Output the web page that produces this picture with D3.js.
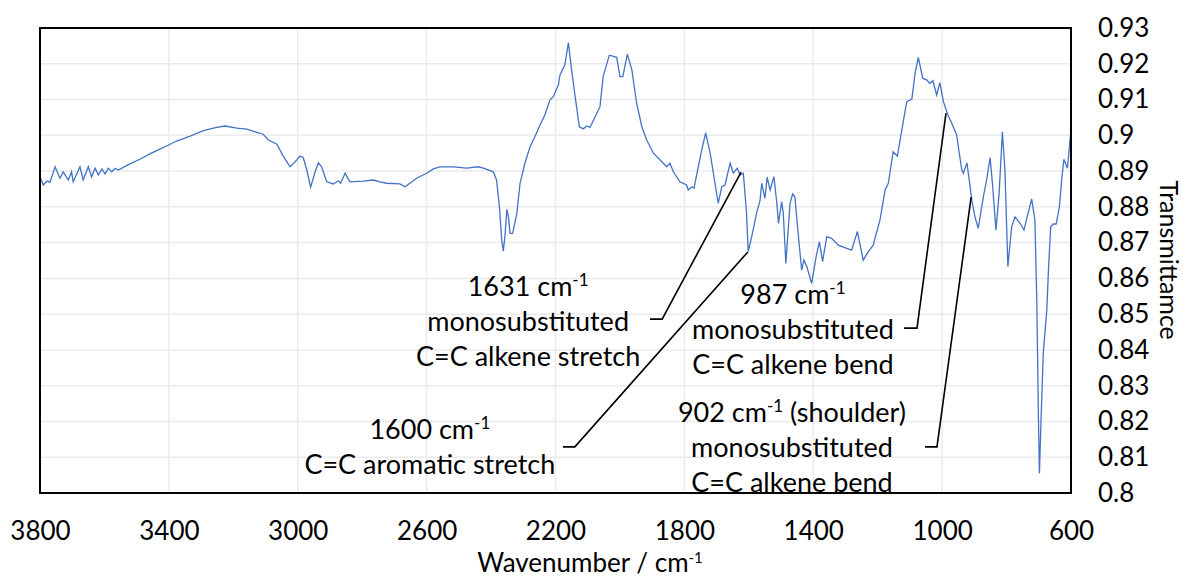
<!DOCTYPE html>
<html>
<head>
<meta charset="utf-8">
<title>IR spectrum</title>
<script src="https://d3js.org/d3.v7.min.js"></script>
<style>
  body { margin: 0; background: #fff; }
  svg text { font-family: Lato, "Open Sans", sans-serif; fill: #000; }
  .axis path { display: none; }
  .axis line { display: none; }
</style>
</head>
<body>
<svg id="chart" width="1187" height="577"></svg>
<script>
// wavenumber (cm-1)
var wavenumber = [3800,3790,3778,3769,3753,3738,3728,3712,3702,3697,
  3676,3666,3650,3640,3629,3619,3608,3598,3588,3577,
  3567,3557,3521,3490,3459,3438,3407,3376,3334,3293,
  3252,3226,3189,3158,3127,3107,3091,3065,3045,3024,
  3009,2993,2983,2972,2960,2946,2936,2926,2910,2890,
  2874,2867,2853,2838,2797,2766,2745,2724,2683,2667,
  2652,2631,2600,2579,2559,2517,2476,2440,2424,2393,
  2383,2374,2367,2362,2357,2351,2346,2341,2333,2320,
  2310,2300,2295,2279,2264,2248,2233,2217,2207,2191,
  2186,2171,2160,2150,2139,2126,2114,2103,2093,2077,
  2062,2052,2033,2010,2000,1991,1977,1963,1948,1932,
  1917,1896,1870,1855,1845,1834,1814,1793,1788,1777,
  1770,1757,1746,1734,1720,1710,1695,1684,1674,1658,
  1648,1636,1627,1617,1607,1602,1591,1576,1565,1560,
  1550,1543,1534,1522,1513,1508,1498,1493,1485,1472,
  1464,1457,1446,1436,1429,1420,1405,1391,1381,1371,
  1358,1343,1322,1296,1281,1263,1245,1229,1214,1193,
  1177,1167,1152,1139,1125,1110,1094,1084,1074,1060,
  1048,1038,1029,1017,1007,996,981,970,955,939,
  934,923,913,908,898,888,872,862,851,843,
  833,823,813,805,796,784,774,758,746,736,
  722,712,706,701,698,693,686,675,670,663,
  655,646,636,628,622,611,601];

var transmittance = [0.8884,0.8861,0.8872,0.8869,0.8912,0.8880,0.8898,0.8875,0.8898,0.8870,
  0.8912,0.8875,0.8912,0.8884,0.8908,0.8889,0.8906,0.8892,0.8908,0.8898,
  0.8908,0.8903,0.8920,0.8933,0.8948,0.8957,0.8970,0.8984,0.8998,0.9013,
  0.9022,0.9026,0.9020,0.9017,0.9008,0.9003,0.8987,0.8975,0.8942,0.8912,
  0.8925,0.8942,0.8938,0.8903,0.8855,0.8898,0.8923,0.8912,0.8870,0.8864,
  0.8873,0.8866,0.8894,0.8870,0.8872,0.8875,0.8870,0.8866,0.8864,0.8856,
  0.8866,0.8880,0.8894,0.8906,0.8912,0.8912,0.8908,0.8912,0.8908,0.8898,
  0.8875,0.8800,0.8707,0.8677,0.8717,0.8793,0.8772,0.8726,0.8726,0.8782,
  0.8866,0.8903,0.8922,0.8968,0.8996,0.9029,0.9057,0.9099,0.9108,0.9141,
  0.9169,0.9197,0.9259,0.9183,0.9108,0.9024,0.9018,0.9026,0.9022,0.9052,
  0.9080,0.9164,0.9224,0.9218,0.9164,0.9164,0.9227,0.9183,0.9089,0.9024,
  0.8987,0.8950,0.8926,0.8912,0.8922,0.8898,0.8870,0.8861,0.8847,0.8856,
  0.8852,0.8912,0.8959,0.9007,0.8950,0.8894,0.8810,0.8856,0.8861,0.8922,
  0.8894,0.8908,0.8889,0.8894,0.8782,0.8675,0.8717,0.8782,0.8819,0.8866,
  0.8824,0.8883,0.8847,0.8884,0.8810,0.8754,0.8814,0.8782,0.8642,0.8810,
  0.8836,0.8828,0.8717,0.8623,0.8651,0.8633,0.8586,0.8661,0.8703,0.8647,
  0.8717,0.8712,0.8693,0.8684,0.8679,0.8731,0.8651,0.8675,0.8693,0.8763,
  0.8847,0.8866,0.8954,0.8942,0.9015,0.9094,0.9101,0.9173,0.9218,0.9159,
  0.9155,0.9145,0.9153,0.9113,0.9147,0.9094,0.9054,0.9034,0.9001,0.8903,
  0.8894,0.8923,0.8856,0.8819,0.8772,0.8740,0.8828,0.8875,0.8938,0.8856,
  0.8735,0.8838,0.9010,0.8903,0.8633,0.8744,0.8772,0.8754,0.8735,0.8772,
  0.8822,0.8763,0.8530,0.8204,0.8055,0.8204,0.8391,0.8512,0.8623,0.8744,
  0.8752,0.8752,0.8800,0.8884,0.8933,0.8908,0.9006];

var xTicks = [3800, 3400, 3000, 2600, 2200, 1800, 1400, 1000, 600];
var yTicks = [0.8, 0.81, 0.82, 0.83, 0.84, 0.85, 0.86, 0.87, 0.88, 0.89, 0.9, 0.91, 0.92, 0.93];
var yTickLabels = ["0.8","0.81","0.82","0.83","0.84","0.85","0.86","0.87","0.88","0.89","0.9","0.91","0.92","0.93"];

// peak labels: tip = point on the spectrum, elbow = start of the leader line
var peakLabels = [
  { lines: [["1631 cm", "-1", ""], ["monosubstituted"], ["C=C alkene stretch"]],
    at: [2285, 0.8576], elbow: [1907, 1869, 0.8486], tip: [1624, 0.8897] },
  { lines: [["1600 cm", "-1", ""], ["C=C aromatic stretch"]],
    at: [2590, 0.8176], elbow: [2177, 2140, 0.8129], tip: [1603, 0.8674] },
  { lines: [["987 cm", "-1", ""], ["monosubstituted"], ["C=C alkene bend"]],
    at: [1463, 0.8554], elbow: [1118, 1078, 0.8461], tip: [988, 0.9062] },
  { lines: [["902 cm", "-1", " (shoulder)"], ["monosubstituted"], ["C=C alkene bend"]],
    at: [1466, 0.8224], elbow: [1053, 1016, 0.8129], tip: [910, 0.8827] }
];

var svg = d3.select("#chart");
var margin = {top: 28, right: 116, bottom: 84, left: 40};
var width = 1187 - margin.left - margin.right;
var height = 577 - margin.top - margin.bottom;
var fontSize = 26;
var noteSize = 27;

var x = d3.scaleLinear().domain([3800, 600]).range([0, width]);
var y = d3.scaleLinear().domain([0.8, 0.93]).range([height, 0]);

var g = svg.append("g")
  .attr("transform", "translate(" + margin.left + "," + margin.top + ")");

// gridlines
g.selectAll(".hgrid")
  .data(yTicks)
  .enter().append("line")
  .attr("x1", 0).attr("x2", width)
  .attr("y1", function(d) { return y(d); })
  .attr("y2", function(d) { return y(d); })
  .style("stroke", "#ebebeb").style("stroke-width", 1.5);

g.selectAll(".vgrid")
  .data(xTicks)
  .enter().append("line")
  .attr("y1", 0).attr("y2", height)
  .attr("x1", function(d) { return x(d); })
  .attr("x2", function(d) { return x(d); })
  .style("stroke", "#ebebeb").style("stroke-width", 1.5);

// spectrum
var points = wavenumber.map(function(w, i) { return [w, transmittance[i]]; });
var line = d3.line()
  .x(function(d) { return x(d[0]); })
  .y(function(d) { return y(d[1]); });

g.append("path")
  .datum(points)
  .attr("d", line)
  .attr("fill", "none")
  .style("stroke", "#4472c4")
  .style("stroke-width", 1.3);

// frame
g.append("rect")
  .attr("width", width).attr("height", height)
  .attr("fill", "none")
  .style("stroke", "#000").style("stroke-width", 2);

// axes
var xAxis = g.append("g")
  .attr("class", "axis")
  .attr("transform", "translate(0," + height + ")")
  .call(d3.axisBottom(x).tickValues(xTicks).tickFormat(d3.format("d")).tickSize(0).tickPadding(29));
xAxis.selectAll("text").style("font-size", fontSize + "px");

var yAxis = g.append("g")
  .attr("class", "axis")
  .attr("transform", "translate(" + width + ",0)")
  .call(d3.axisRight(y).tickValues(yTicks)
    .tickFormat(function(d, i) { return yTickLabels[i]; })
    .tickSize(0).tickPadding(27));
yAxis.selectAll("text").style("font-size", fontSize + "px");

// axis titles
var xt = svg.append("text")
  .attr("x", 590).attr("y", 572)
  .attr("text-anchor", "middle")
  .style("font-size", fontSize + "px");
xt.append("tspan").text("Wavenumber / cm");
xt.append("tspan").attr("dy", -9).style("font-size", "15px").text("-1");

svg.append("text")
  .attr("transform", "translate(1160,260) rotate(90)")
  .attr("text-anchor", "middle")
  .style("font-size", "25px")
  .text("Transmittamce");

// peak annotations
peakLabels.forEach(function(p) {
  var cx = x(p.at[0]);
  var cy = y(p.at[1]);
  p.lines.forEach(function(parts, i) {
    var t = g.append("text")
      .attr("x", cx)
      .attr("y", cy + 9 + i * 35)
      .attr("text-anchor", "middle")
      .style("font-size", noteSize + "px");
    t.append("tspan").text(parts[0]);
    if (parts.length > 1) {
      t.append("tspan").attr("dy", -10).style("font-size", "17px").text(parts[1]);
      t.append("tspan").attr("dy", 10).text(parts[2]);
    }
  });
  g.append("polyline")
    .attr("points", [
      [x(p.elbow[0]), y(p.elbow[2])],
      [x(p.elbow[1]), y(p.elbow[2])],
      [x(p.tip[0]), y(p.tip[1])]
    ].map(function(q) { return q.join(","); }).join(" "))
    .attr("fill", "none")
    .style("stroke", "#000")
    .style("stroke-width", 1.6);
});
</script>
</body>
</html>
